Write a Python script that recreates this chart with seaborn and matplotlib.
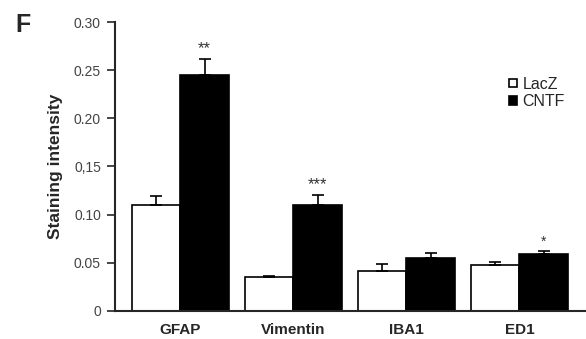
import numpy as np
import pandas as pd
import matplotlib
matplotlib.use("Agg")
import matplotlib.pyplot as plt
import seaborn as sns

markers = ["GFAP", "Vimentin", "IBA1", "ED1"]
groups = ["LacZ", "CNTF"]
lacz_mean = [0.110, 0.035, 0.041, 0.048]
lacz_err = [0.009, 0.001, 0.008, 0.003]
cntf_mean = [0.245, 0.110, 0.055, 0.059]
cntf_err = [0.017, 0.010, 0.005, 0.003]
stars = ["**", "***", "", "*"]
yticks = [0, 0.05, 0.10, 0.15, 0.20, 0.25, 0.30]
ytick_labels = ["0", "0.05", "0.10", "0,15", "0.20", "0.25", "0.30"]

df = pd.DataFrame({
    "marker": markers * 2,
    "group": ["LacZ"] * 4 + ["CNTF"] * 4,
    "value": lacz_mean + cntf_mean,
    "err": lacz_err + cntf_err,
})

sns.set_style("ticks")
plt.rcParams["font.family"] = ["Liberation Sans", "DejaVu Sans"]

fig = plt.figure(figsize=(5.86, 3.39), dpi=100)
ax = fig.add_axes([0.196, 0.083, 0.81, 0.852])

sns.barplot(data=df, x="marker", y="value", hue="group", order=markers,
            hue_order=groups, palette={"LacZ": "white", "CNTF": "black"},
            edgecolor="black", linewidth=1.2, width=0.86, errorbar=None,
            ax=ax, legend=True)

# error bars (upper only) on top of each bar
for cont, g in zip(ax.containers, groups):
    sub = df[df["group"] == g].set_index("marker").loc[markers]
    xs = [p.get_x() + p.get_width() / 2 for p in cont.patches]
    ax.errorbar(xs, sub["value"], yerr=[np.zeros(4), sub["err"]], fmt="none",
                ecolor="black", elinewidth=1.2, capsize=4, capthick=1.2)
    if g == "CNTF":
        for x, v, e, s in zip(xs, sub["value"], sub["err"], stars):
            if s:
                fs = 12 if len(s) > 1 else 10
                ax.text(x, v + e + 0.003, s, ha="center", va="bottom",
                        fontsize=fs, color="#333333")

ax.set_ylim(0, 0.30)
ax.set_xlim(-0.58, 3.62)
ax.set_yticks(yticks)
ax.set_yticklabels(ytick_labels, fontsize=10, color="#444444")
ax.tick_params(axis="y", length=6, width=1.2, direction="out", pad=4)
ax.tick_params(axis="x", length=0, pad=9)
for lab in ax.get_xticklabels():
    lab.set_fontweight("bold")
    lab.set_fontsize(11)
ax.set_xlabel("")
ax.set_ylabel("Staining intensity", fontsize=12.5, fontweight="bold", labelpad=8)
sns.despine(ax=ax)
ax.spines["left"].set_linewidth(1.5)
ax.spines["bottom"].set_linewidth(1.5)

leg = ax.legend(loc="upper left", bbox_to_anchor=(0.8, 0.86), frameon=False,
                fontsize=11.5, handlelength=0.5, handleheight=0.4,
                handletextpad=0.35, labelspacing=0.15)

fig.text(0.027, 0.905, "F", fontsize=18, fontweight="bold")

fig.savefig("out.png", dpi=100)
